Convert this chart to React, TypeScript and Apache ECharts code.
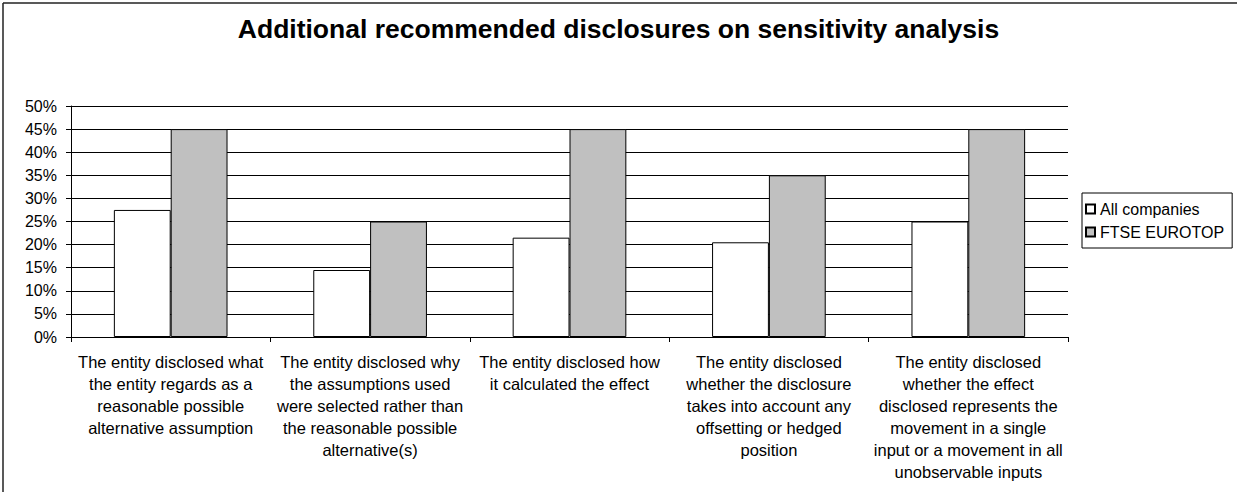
import React, { useEffect, useRef } from "react";
import * as echarts from "echarts";

const categories = [
  "The entity disclosed what\nthe entity regards as a\nreasonable possible\nalternative assumption",
  "The entity disclosed why\nthe assumptions used\nwere selected rather than\nthe reasonable possible\nalternative(s)",
  "The entity disclosed how\nit calculated the effect",
  "The entity disclosed\nwhether the disclosure\ntakes into account any\noffsetting or hedged\nposition",
  "The entity disclosed\nwhether the effect\ndisclosed represents the\nmovement in a single\ninput or a movement in all\nunobservable inputs",
];

const allCompanies = [0.275, 0.145, 0.215, 0.205, 0.25];
const ftseEurotop = [0.45, 0.25, 0.45, 0.35, 0.45];

const seriesNames = ["All companies", "FTSE EUROTOP"];
const titleText = "Additional recommended disclosures on sensitivity analysis";

const FONT = "'Liberation Sans', Arial, sans-serif";

export default function App() {
  const ref = useRef<HTMLDivElement>(null);

  useEffect(() => {
    document.body.style.margin = "0";
    if (!ref.current) return;
    const chart = echarts.init(ref.current, undefined, { renderer: "svg" });
    chart.setOption({
      animation: false,
      backgroundColor: "#ffffff",
      textStyle: { fontFamily: FONT, color: "#000" },
      title: {
        text: titleText,
        left: "center",
        top: 10,
        textStyle: { fontFamily: FONT, fontSize: 26.5, fontWeight: "bold", color: "#000" },
      },
      graphic: [
        {
          type: "line",
          shape: { x1: 3, y1: 3, x2: 1237, y2: 3 },
          style: { stroke: "#222", lineWidth: 1.5 },
        },
        {
          type: "line",
          shape: { x1: 3, y1: 3, x2: 3, y2: 492 },
          style: { stroke: "#222", lineWidth: 1.5 },
        },
      ],
      legend: {
        orient: "vertical",
        left: 1082,
        top: 193,
        data: seriesNames,
        icon: "rect",
        itemWidth: 9,
        itemHeight: 9,
        itemGap: 7,
        padding: [8, 8, 8, 3],
        borderColor: "#000",
        borderWidth: 1,
        textStyle: { fontFamily: FONT, fontSize: 16, color: "#000" },
      },
      grid: { left: 71, right: 169, top: 106, bottom: 155, containLabel: false },
      xAxis: {
        type: "category",
        data: categories,
        axisLine: { show: true, lineStyle: { color: "#000", width: 1 } },
        axisTick: { show: true, length: 5, lineStyle: { color: "#000" } },
        axisLabel: {
          interval: 0,
          margin: 14,
          fontFamily: FONT,
          fontSize: 16.5,
          lineHeight: 22,
          color: "#000",
          align: "center",
        },
      },
      yAxis: {
        type: "value",
        min: 0,
        max: 0.5,
        interval: 0.05,
        axisLine: { show: true, lineStyle: { color: "#000", width: 1 } },
        axisTick: { show: true, length: 5, lineStyle: { color: "#000" } },
        splitLine: { show: true, lineStyle: { color: "#000", width: 1 } },
        axisLabel: {
          margin: 14,
          fontFamily: FONT,
          fontSize: 16,
          color: "#000",
          formatter: (v: number) => `${Math.round(v * 100)}%`,
        },
      },
      series: [
        {
          name: seriesNames[0],
          type: "bar",
          data: allCompanies,
          barGap: "0%",
          barCategoryGap: "43%",
          itemStyle: { color: "#ffffff", borderColor: "#000", borderWidth: 1 },
        },
        {
          name: seriesNames[1],
          type: "bar",
          data: ftseEurotop,
          barGap: "0%",
          barCategoryGap: "43%",
          itemStyle: { color: "#c0c0c0", borderColor: "#000", borderWidth: 1 },
        },
      ],
    });
    return () => chart.dispose();
  }, []);

  return <div ref={ref} style={{ width: 1237, height: 492 }} />;
}
